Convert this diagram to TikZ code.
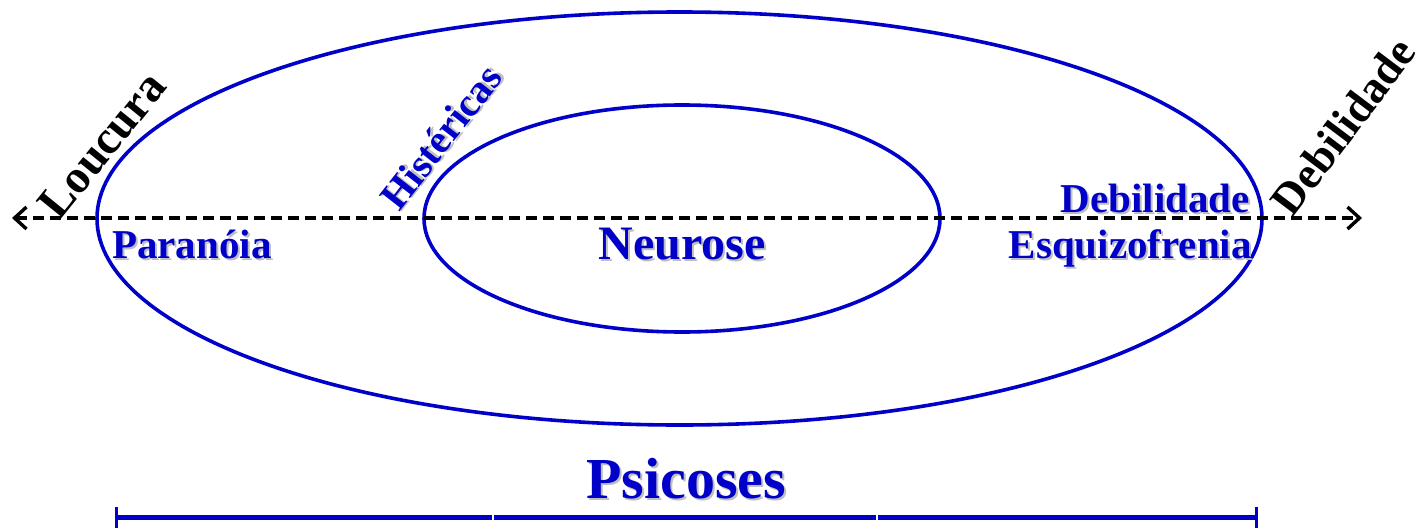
\documentclass[tikz,border=0pt]{standalone}
\usepackage{fontspec}
\setmainfont{Liberation Serif}
\usetikzlibrary{arrows.meta,shapes.geometric}
\definecolor{dblue}{HTML}{0000C8}
\tikzset{
  ring/.style={draw=dblue, line width=3.6pt, ellipse, inner sep=0pt},
  axis/.style={draw=black, line width=3.4pt, dash pattern=on 11pt off 6pt, {Straight Barb[length=12pt,width=22pt,line width=3.4pt]}-{Straight Barb[length=12pt,width=22pt,line width=3.4pt]}},
  bluetxt/.style={text=dblue, font=\bfseries\fontsize{41}{41}\selectfont, inner sep=0pt},
  shadowtxt/.style={text=black!25, font=\bfseries\fontsize{41}{41}\selectfont, inner sep=0pt},
  blacktxt/.style={text=black, font=\bfseries\fontsize{47}{47}\selectfont, inner sep=0pt},
  bar/.style={draw=dblue, line width=5pt},
}
\newcommand{\shadowed}[4]{% #1 position, #2 options, #3 name, #4 text
  \node[shadowtxt, #2, xshift=2pt, yshift=-2pt] at #1 {#4};
  \node[bluetxt, #2] (#3) at #1 {#4};
}
\begin{document}
\begin{tikzpicture}[x=1pt, y=-1pt]
\useasboundingbox[fill=white] (0,0) rectangle (1423,527);
% ellipses
\node[ring, minimum width=1165pt, minimum height=413pt] (outer) at (679.5,218.5) {};
\node[ring, minimum width=516pt, minimum height=227pt] (inner) at (682,218.5) {};
% axis
\coordinate (axL) at (12,218);
\coordinate (axR) at (1362,218);
\draw[axis] (axL) -- (axR);
% blue labels
\shadowed{(112,258)}{anchor=base west}{paranoia}{Paranóia}
\shadowed{(682,259)}{anchor=base, font=\bfseries\fontsize{48}{48}\selectfont}{neurose}{Neurose}
\shadowed{(1250,212)}{anchor=base east}{debil}{Debilidade}
\shadowed{(1252,258)}{anchor=base east}{esquizo}{Esquizofrenia}
\shadowed{(441,137)}{rotate=52, font=\bfseries\fontsize{40}{40}\selectfont}{hister}{Histéricas}
\shadowed{(686,498)}{anchor=base, font=\bfseries\fontsize{58}{58}\selectfont}{psicoses}{Psicoses}
% black labels
\node[blacktxt, rotate=51] (loucura) at (102,145) {Loucura};
\node[blacktxt, rotate=53, font=\bfseries\fontsize{45}{45}\selectfont] (debilb) at (1343,126) {Debilidade};
% bottom bar
\coordinate (bL) at (116,517);
\coordinate (b1) at (493,517);
\coordinate (b2) at (877,517);
\coordinate (bR) at (1256,517);
\draw[bar] (bL) -- ([xshift=-1pt]b1);
\draw[bar] ([xshift=1pt]b1) -- ([xshift=-1pt]b2);
\draw[bar] ([xshift=1pt]b2) -- (bR);
\draw[draw=dblue, line width=3pt] ([yshift=-17pt]bL) -- ([yshift=10pt]bL);
\draw[draw=dblue, line width=3pt] ([yshift=-17pt]bR) -- ([yshift=10pt]bR);
\end{tikzpicture}
\end{document}
